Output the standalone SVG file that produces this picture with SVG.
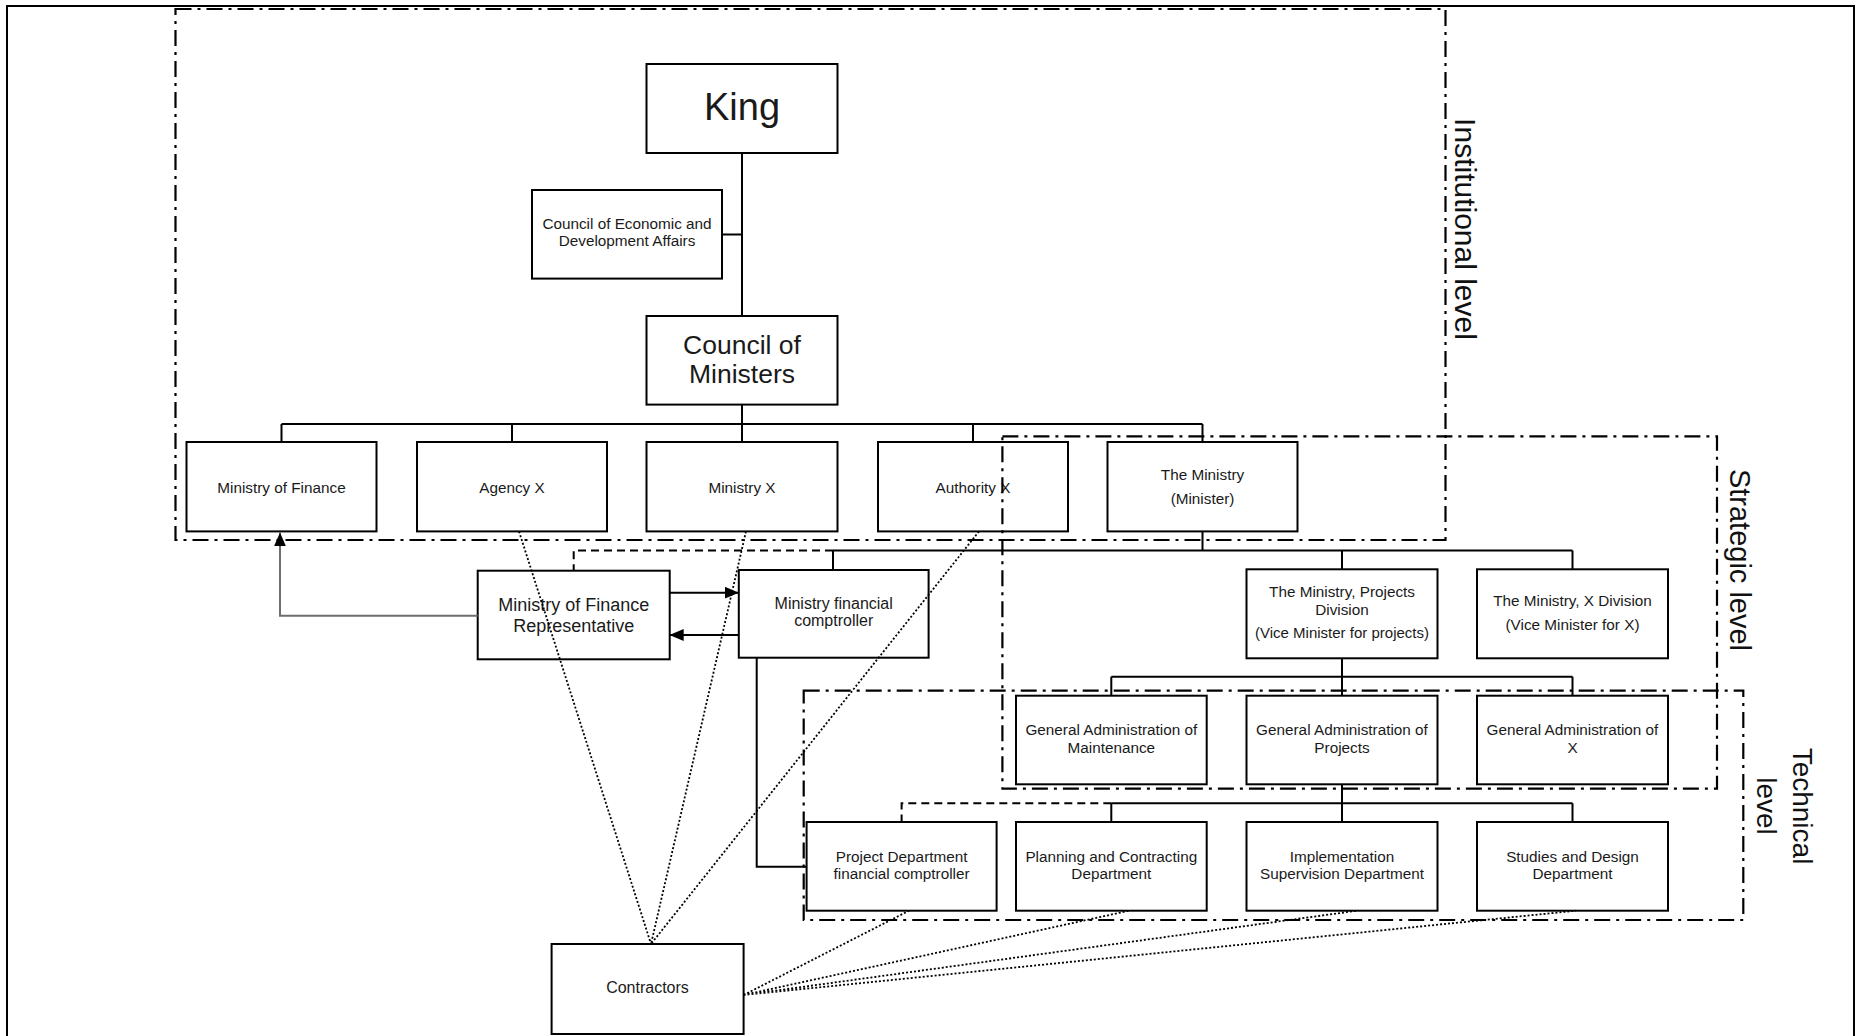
<svg xmlns="http://www.w3.org/2000/svg" width="1861" height="1036" viewBox="0 0 1861 1036">
<style>
.box{fill:#fff;stroke:#000;stroke-width:2}
.t{font-family:"Liberation Sans",Arial,sans-serif;font-size:15.3px;text-anchor:middle;fill:#1a1a1a}
.ln{fill:none;stroke:#000;stroke-width:2}
.dash{stroke-dasharray:8 5}
.dot{fill:none;stroke:#000;stroke-width:1.8;stroke-dasharray:2 2}
.lvl{fill:none;stroke:#000;stroke-width:2.2;stroke-dasharray:16 6 3 6}
.lt{font-family:"Liberation Sans",Arial,sans-serif;font-size:29px;text-anchor:middle;fill:#111}
</style>
<defs>
<marker id="ah" viewBox="0 0 14 12" refX="14" refY="6" markerWidth="14" markerHeight="12" markerUnits="userSpaceOnUse" orient="auto"><path d="M0,0 L14,6 L0,12 z" fill="#000"/></marker>
</defs>
<rect x="0" y="0" width="1861" height="1036" fill="#fff"/>
<rect x="7" y="6" width="1847" height="1040" fill="none" stroke="#000" stroke-width="2"/>

<g id="nodes">
<g id="king"><rect class="box" x="646.5" y="64" width="191" height="89"/><text class="t" x="742" y="120" style="font-size:38px">King</text></g>
<g id="ceda"><rect class="box" x="532" y="190" width="190" height="88.6"/><text class="t" x="627" y="228.6">Council of Economic and</text><text class="t" x="627" y="246.4">Development Affairs</text></g>
<g id="council"><rect class="box" x="646.5" y="316" width="191" height="88.6"/><text class="t" x="742" y="353.6" style="font-size:26.5px">Council of</text><text class="t" x="742" y="383" style="font-size:26.5px">Ministers</text></g>
<g id="mof"><rect class="box" x="186.5" y="442" width="190" height="89.4"/><text class="t" x="281.5" y="493">Ministry of Finance</text></g>
<g id="agency"><rect class="box" x="417" y="442" width="190" height="89.4"/><text class="t" x="512" y="493">Agency X</text></g>
<g id="ministryx"><rect class="box" x="646.5" y="442" width="191" height="89.4"/><text class="t" x="742" y="493">Ministry X</text></g>
<g id="authority"><rect class="box" x="878" y="442" width="190" height="89.4"/><text class="t" x="973" y="493">Authority X</text></g>
<g id="ministry"><rect class="box" x="1107.5" y="442" width="190" height="89.4"/><text class="t" x="1202.5" y="480">The Ministry</text><text class="t" x="1202.5" y="503.6">(Minister)</text></g>
<g id="mofrep"><rect class="box" x="477.7" y="570.7" width="192" height="88.6"/><text class="t" x="573.7" y="610.7" style="font-size:18px">Ministry of Finance</text><text class="t" x="573.7" y="632.3" style="font-size:18px">Representative</text></g>
<g id="mfc"><rect class="box" x="738.8" y="570" width="189.8" height="87.7"/><text class="t" x="833.7" y="609.3" style="font-size:16px">Ministry financial</text><text class="t" x="833.7" y="626" style="font-size:16px">comptroller</text></g>
<g id="projdiv"><rect class="box" x="1246.5" y="569.3" width="191" height="89"/><text class="t" x="1342" y="597.3">The Ministry, Projects</text><text class="t" x="1342" y="615">Division</text><text class="t" x="1342" y="638.3" style="font-size:15px">(Vice Minister for projects)</text></g>
<g id="xdiv"><rect class="box" x="1477" y="569.3" width="191" height="89"/><text class="t" x="1572.5" y="605.7">The Ministry, X Division</text><text class="t" x="1572.5" y="630">(Vice Minister for X)</text></g>
<g id="gamaint"><rect class="box" x="1016" y="695.7" width="190.7" height="88.6"/><text class="t" x="1111.3" y="735">General Administration of</text><text class="t" x="1111.3" y="752.7">Maintenance</text></g>
<g id="gaproj"><rect class="box" x="1246.5" y="695.7" width="191" height="88.6"/><text class="t" x="1342" y="735">General Administration of</text><text class="t" x="1342" y="752.7">Projects</text></g>
<g id="gax"><rect class="box" x="1477" y="695.7" width="191" height="88.6"/><text class="t" x="1572.5" y="735">General Administration of</text><text class="t" x="1572.5" y="752.7">X</text></g>
<g id="pdfc"><rect class="box" x="806.6" y="822" width="190" height="88.7"/><text class="t" x="901.6" y="862.3">Project Department</text><text class="t" x="901.6" y="879.3">financial comptroller</text></g>
<g id="planning"><rect class="box" x="1016" y="822" width="190.7" height="88.7"/><text class="t" x="1111.3" y="862.3">Planning and Contracting</text><text class="t" x="1111.3" y="879.3">Department</text></g>
<g id="implementation"><rect class="box" x="1246.5" y="822" width="191" height="88.7"/><text class="t" x="1342" y="862.3">Implementation</text><text class="t" x="1342" y="879.3">Supervision Department</text></g>
<g id="studies"><rect class="box" x="1477" y="822" width="191" height="88.7"/><text class="t" x="1572.5" y="862.3">Studies and Design</text><text class="t" x="1572.5" y="879.3">Department</text></g>
<g id="contractors"><rect class="box" x="551.6" y="944" width="192" height="90"/><text class="t" x="647.5" y="992.7" style="font-size:16px">Contractors</text></g>
</g>

<g id="levels">
<g id="institutional"><rect class="lvl" x="175.5" y="9" width="1270" height="531"/><text class="lt" transform="translate(1455,229) rotate(90)" style="font-size:30px">Institutional level</text></g>
<g id="strategic"><rect class="lvl" x="1002.4" y="436.4" width="714.6" height="352.3"/><text class="lt" transform="translate(1730,560) rotate(90)">Strategic level</text></g>
<g id="technical"><rect class="lvl" x="803.7" y="690.7" width="939.6" height="229.3"/><text class="lt" transform="translate(1793,806) rotate(90)" style="font-size:28px">Technical</text><text class="lt" transform="translate(1757,806) rotate(90)" style="font-size:28px">level</text></g>
</g>

<g id="connectors">
<path class="ln" d="M742,153 V316 M722,234.6 H742 M742,404.6 V424 M281.5,424 H1202.5 M281.5,424 V442 M512,424 V442 M742,424 V442 M973,424 V442 M1202.5,424 V442"/>
<path class="ln" d="M1202.5,531.4 V550.5 M833,550.5 H1572.5 M833,550.5 V570 M1342,550.5 V569.3 M1572.5,550.5 V569.3"/>
<path class="ln dash" d="M833,550.5 H573.7 V570.7"/>
<path class="ln" d="M1342,658.3 V695.7 M1111.3,676.7 H1572.5 M1111.3,676.7 V695.7 M1572.5,676.7 V695.7"/>
<path class="ln" d="M1342,784.3 V822 M1111.3,803.3 H1572.5 M1111.3,803.3 V822 M1572.5,803.3 V822"/>
<path class="ln dash" d="M1111.3,803.3 H901.6 V822"/>
<path class="ln" d="M756.7,657.7 V866.7 H806.6"/>
<path fill="none" stroke="#6e6e6e" stroke-width="2" d="M477.7,615.7 H280 V532.4" marker-end="url(#ah)"/>
<path class="ln" d="M669.7,592.7 H738.8" marker-end="url(#ah)"/>
<path class="ln" d="M738.8,635 H669.7" marker-end="url(#ah)"/>
<path class="dot" d="M519,531.4 L651,944 M746,531.4 L651,944 M979,531.4 L651,944"/>
<path class="dot" d="M743.6,995 L909,910.7 M743.6,995 L1129,910.7 M743.6,995 L1357,910.7 M743.6,995 L1576,910.7"/>
</g>
</svg>
